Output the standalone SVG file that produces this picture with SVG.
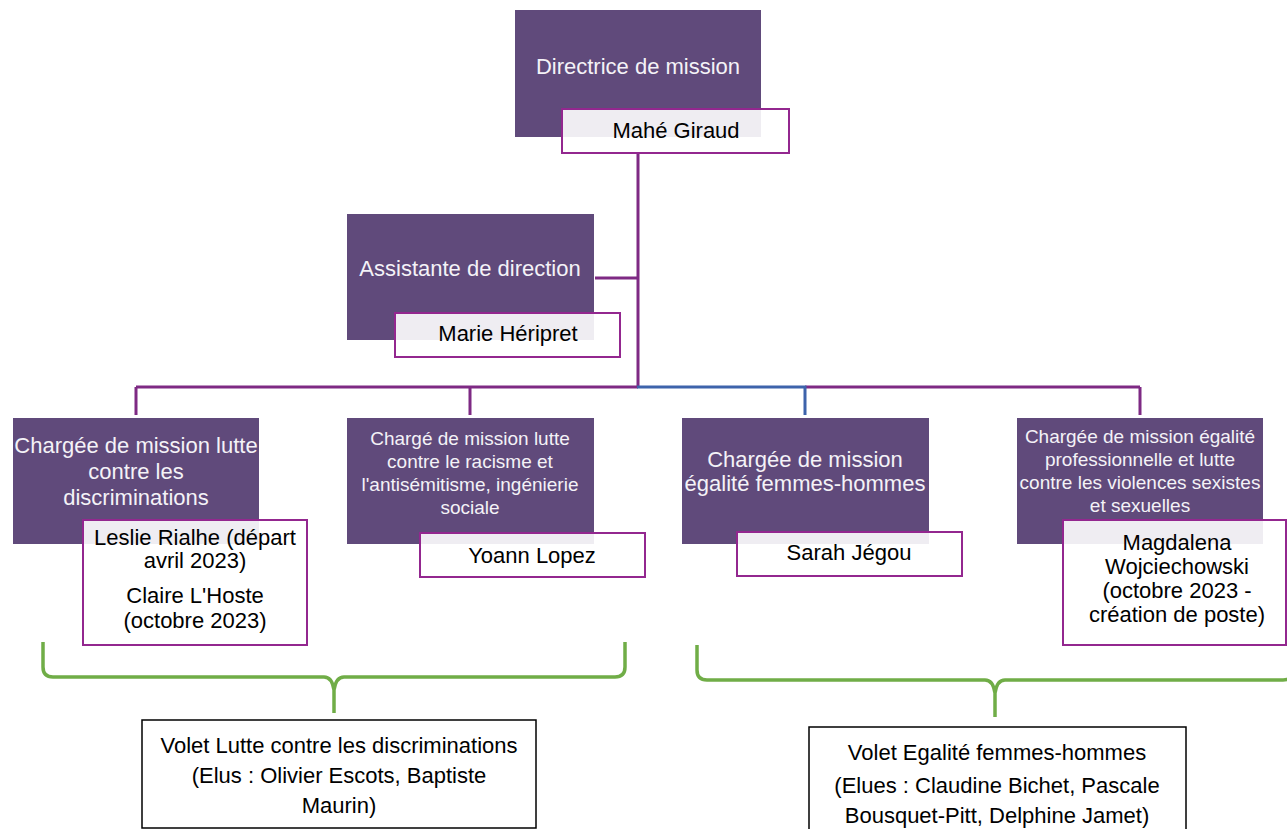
<svg xmlns="http://www.w3.org/2000/svg" width="1287" height="829" viewBox="0 0 1287 829">
<style>
.role{fill:#604a7b}
.name{fill:#ffffff;fill-opacity:0.9;stroke:#93278f;stroke-width:2}
.t{font-family:"Liberation Sans",Arial,sans-serif;text-anchor:middle}
.w{fill:#f4f2f7;font-size:22px}
.ws{fill:#f4f2f7;font-size:19px}
.k{fill:#000;font-size:22px}
.c{fill:none;stroke:#7e2a84;stroke-width:3}
.cb{fill:none;stroke:#3d63ab;stroke-width:3}
.br{fill:none;stroke:#70ad47;stroke-width:3.5;stroke-linejoin:round}
.vol{fill:#fff;stroke:#000;stroke-width:1.5}
</style>
<rect width="1287" height="829" fill="#fff"/>
<g id="connectors">
<path class="c" d="M638 153V387M595 278H638M136 387H638M805 387H1140M136 387V415M470 387V415M1140 387V415"/>
<path class="cb" d="M637 387H805V415"/>
<path class="br" d="M43 642V667Q43 677 53 677H324Q332 677 334 690V713M625 642V667Q625 677 615 677H344Q336 677 334 690"/>
<path class="br" d="M697 645V670Q697 680 707 680H985Q993 680 995 693V717M1293 645V670Q1293 680 1283 680H1005Q997 680 995 693"/>
</g>
<g id="directrice">
<rect class="role" x="515" y="10" width="246" height="127"/>
<text class="t w" x="638" y="74">Directrice de mission</text>
<rect class="name" x="562" y="109" width="227" height="44"/>
<text class="t k" x="676" y="138">Mahé Giraud</text>
</g>
<g id="assistante">
<rect class="role" x="347" y="214" width="247" height="126"/>
<text class="t w" x="470" y="276">Assistante de direction</text>
<rect class="name" x="395" y="313" width="225" height="44"/>
<text class="t k" x="508" y="341">Marie Héripret</text>
</g>
<g id="cm-discriminations">
<rect class="role" x="13" y="418" width="246" height="126"/>
<text class="t w" x="136" y="453">Chargée de mission lutte</text>
<text class="t w" x="136" y="479">contre les</text>
<text class="t w" x="136" y="505">discriminations</text>
<rect class="name" x="83" y="520" width="224" height="125"/>
<text class="t k" x="195" y="545">Leslie Rialhe (départ</text>
<text class="t k" x="195" y="568">avril 2023)</text>
<text class="t k" x="195" y="603">Claire L'Hoste</text>
<text class="t k" x="195" y="628">(octobre 2023)</text>
</g>
<g id="cm-racisme">
<rect class="role" x="347" y="418" width="247" height="126"/>
<text class="t ws" x="470" y="445">Chargé de mission lutte</text>
<text class="t ws" x="470" y="468">contre le racisme et</text>
<text class="t ws" x="470" y="491">l'antisémitisme, ingénierie</text>
<text class="t ws" x="470" y="514">sociale</text>
<rect class="name" x="420" y="533" width="225" height="44"/>
<text class="t k" x="532" y="563">Yoann Lopez</text>
</g>
<g id="cm-egalite">
<rect class="role" x="682" y="418" width="247" height="126"/>
<text class="t w" x="805" y="467">Chargée de mission</text>
<text class="t w" x="805" y="491">égalité femmes-hommes</text>
<rect class="name" x="737" y="532" width="225" height="44"/>
<text class="t k" x="849" y="560">Sarah Jégou</text>
</g>
<g id="cm-egalite-pro">
<rect class="role" x="1017" y="418" width="246" height="126"/>
<text class="t ws" x="1140" y="443">Chargée de mission égalité</text>
<text class="t ws" x="1140" y="466">professionnelle et lutte</text>
<text class="t ws" x="1140" y="489">contre les violences sexistes</text>
<text class="t ws" x="1140" y="512">et sexuelles</text>
<rect class="name" x="1063" y="520" width="223" height="125"/>
<text class="t k" x="1177" y="550">Magdalena</text>
<text class="t k" x="1177" y="574">Wojciechowski</text>
<text class="t k" x="1177" y="598">(octobre 2023 -</text>
<text class="t k" x="1177" y="622">création de poste)</text>
</g>
<g id="volet-discriminations">
<rect class="vol" x="142" y="720" width="394" height="108"/>
<text class="t k" x="339" y="753">Volet Lutte contre les discriminations</text>
<text class="t k" x="339" y="783">(Elus : Olivier Escots, Baptiste</text>
<text class="t k" x="339" y="813">Maurin)</text>
</g>
<g id="volet-egalite">
<rect class="vol" x="809" y="727" width="377" height="110"/>
<text class="t k" x="997" y="760">Volet Egalité femmes-hommes</text>
<text class="t k" x="997" y="793">(Elues : Claudine Bichet, Pascale</text>
<text class="t k" x="997" y="823">Bousquet-Pitt, Delphine Jamet)</text>
</g>
</svg>
